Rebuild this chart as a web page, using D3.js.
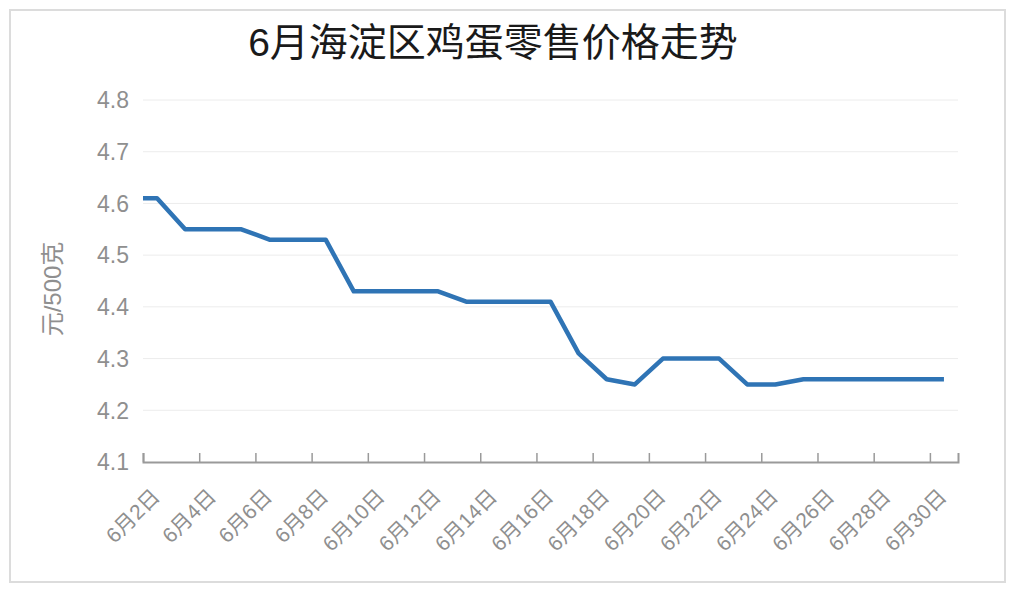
<!DOCTYPE html>
<html>
<head>
<meta charset="utf-8">
<script src="https://cdn.jsdelivr.net/npm/d3@7"></script>
<style>
  body { margin: 0; background: #fff; }
  text { font-family: "Liberation Sans", "Noto Sans CJK SC", Arial, sans-serif; }
</style>
</head>
<body>
<div id="chart"></div>
<script>
// data: June retail egg price, Haidian (yuan / 500g)
var days = [1, 2, 3, 4, 5, 6, 7, 8, 9, 10, 11, 12, 13, 14, 15, 16, 17, 18, 19, 20,
            21, 22, 23, 24, 25, 26, 27, 28, 29, 30];
var prices = [4.61, 4.61, 4.55, 4.55, 4.55, 4.53, 4.53, 4.53, 4.43, 4.43, 4.43, 4.43, 4.41, 4.41, 4.41,
              4.41, 4.31, 4.26, 4.25, 4.30, 4.30, 4.30, 4.25, 4.25, 4.26, 4.26, 4.26, 4.26, 4.26, 4.26];
var labelDays = [2, 4, 6, 8, 10, 12, 14, 16, 18, 20, 22, 24, 26, 28, 30];
var yTicks = [4.1, 4.2, 4.3, 4.4, 4.5, 4.6, 4.7, 4.8];
var title = "6月海淀区鸡蛋零售价格走势";
var yTitle = "元/500克";

var width = 1015,
    height = 593,
    margin = { left: 143, right: 57, top: 100, bottom: 131 };

var svg = d3.select("#chart").append("svg")
    .attr("width", width)
    .attr("height", height);

// outer frame
svg.append("rect")
    .attr("x", 10).attr("y", 10)
    .attr("width", 995).attr("height", 572)
    .attr("fill", "none")
    .attr("stroke", "#dcdcdc")
    .attr("stroke-width", 2);

svg.append("text")
    .attr("x", 493)
    .attr("y", 56)
    .attr("text-anchor", "middle")
    .attr("font-size", 39)
    .attr("fill", "#1a1a1a")
    .text(title);

var x = d3.scaleLinear()
    .domain([1.5, 30.5])
    .range([margin.left, width - margin.right]);

var y = d3.scaleLinear()
    .domain([4.1, 4.8])
    .range([height - margin.bottom, margin.top]);

var g = svg.append("g");

// gridlines
g.selectAll(".grid").data(yTicks.slice(1)).enter().append("line")
    .attr("class", "grid")
    .attr("x1", x.range()[0]).attr("x2", x.range()[1])
    .attr("y1", function(d) { return y(d); })
    .attr("y2", function(d) { return y(d); })
    .attr("stroke", "#ececec")
    .attr("stroke-width", 1);

// y tick labels
g.selectAll(".ylab").data(yTicks).enter().append("text")
    .attr("class", "ylab")
    .attr("x", 129)
    .attr("y", function(d) { return y(d); })
    .attr("dy", "0.36em")
    .attr("text-anchor", "end")
    .attr("font-size", 23)
    .attr("fill", "#8f8f8f")
    .text(function(d) { return d.toFixed(1); });

// y title
svg.append("text")
    .attr("transform", "translate(61,289) rotate(-90)")
    .attr("text-anchor", "middle")
    .attr("font-size", 24)
    .attr("fill", "#8f8f8f")
    .text(yTitle);

// x axis: ticks between category pairs
var xAxis = d3.axisBottom(x)
    .tickValues(labelDays.map(function(d) { return d - 0.5; }))
    .tickSize(-9)
    .tickFormat("");

var axisG = g.append("g")
    .attr("transform", "translate(0," + y(4.1) + ")")
    .call(xAxis);
axisG.select(".domain").attr("stroke", "#9a9a9a").attr("stroke-width", 2);
axisG.selectAll(".tick line").attr("stroke", "#9a9a9a").attr("stroke-width", 1.5);

g.selectAll(".xlab").data(labelDays).enter().append("text")
    .attr("class", "xlab")
    .attr("transform", function(d) {
        return "translate(" + (x(d) + 4) + "," + (y(4.1) + 36) + ") rotate(-45)";
    })
    .attr("text-anchor", "end")
    .attr("font-size", 21)
    .attr("fill", "#8f8f8f")
    .text(function(d) { return "6月" + d + "日"; });

// clip to plot area
svg.append("clipPath").attr("id", "clip")
    .append("rect")
    .attr("x", x.range()[0]).attr("y", 0)
    .attr("width", x.range()[1] - x.range()[0])
    .attr("height", height);

var line = d3.line()
    .x(function(d, i) { return x(days[i]); })
    .y(function(d) { return y(d); });

g.append("path")
    .datum(prices)
    .attr("clip-path", "url(#clip)")
    .attr("fill", "none")
    .attr("stroke", "#2f74b5")
    .attr("stroke-width", 4.5)
    .attr("stroke-linejoin", "round")
    .attr("d", line);
</script>
</body>
</html>
